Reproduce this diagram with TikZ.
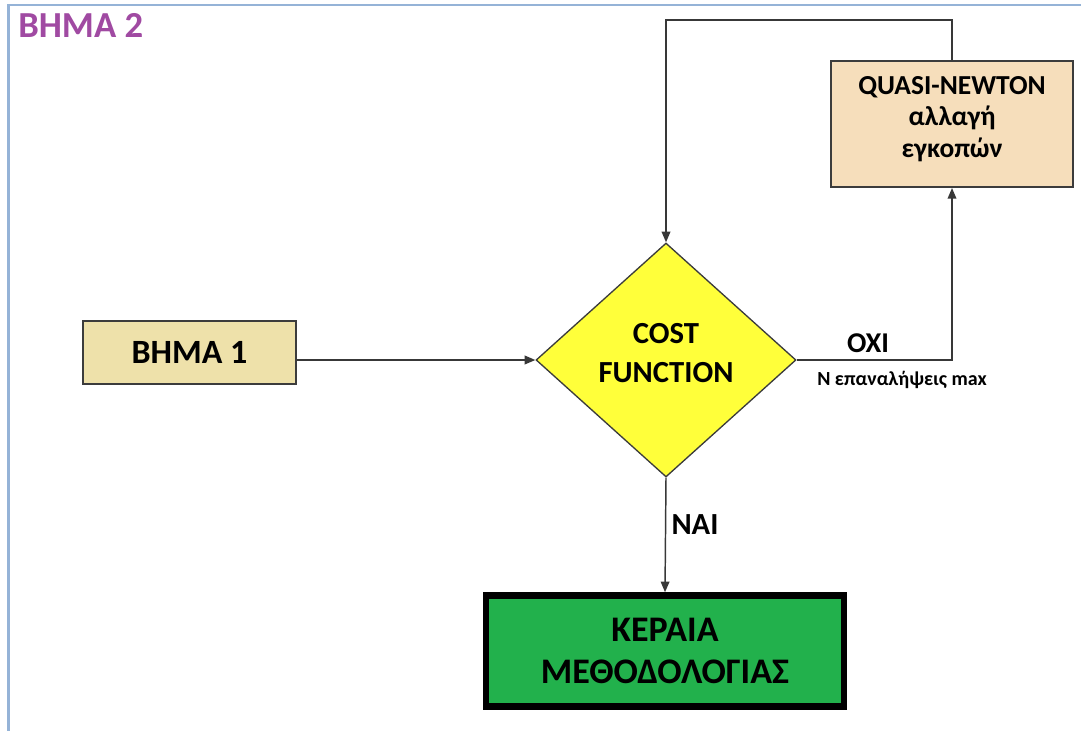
\documentclass[tikz,border=0pt]{standalone}
\usepackage{fontspec}
\setmainfont{Carlito}
\usetikzlibrary{shapes.geometric,arrows.meta}
\definecolor{framecol}{HTML}{95B3D7}
\definecolor{titlecol}{HTML}{A04AA2}
\definecolor{boxline}{HTML}{3C3C3C}
\definecolor{connline}{HTML}{383838}
\definecolor{stepcol}{HTML}{EEE1AA}
\definecolor{qncol}{HTML}{F6DEBB}
\definecolor{diamcol}{HTML}{FFFF3A}
\definecolor{greencol}{HTML}{22B14C}
\begin{document}
\begin{tikzpicture}[x=0.75pt,y=-0.75pt,
  box/.style={draw=boxline, line width=1.5pt, inner sep=0pt, align=center},
  conn/.style={draw=connline, line width=1.1pt},
  arr/.style={conn, -{Triangle[length=8pt,width=6.5pt]}},
  lab/.style={inner sep=0pt}]
\useasboundingbox (0,0) rectangle (1081,731);
% page frame
\draw[framecol, line width=2pt] (8.5,731) -- (8.5,5) -- (1081,5);
\node[anchor=base west, text=titlecol, inner sep=0pt,
      font=\fontsize{27.5}{30}\selectfont\bfseries] (title) at (18,38) {ΒΗΜΑ 2};
% blocks
\node[box, fill=stepcol, minimum width=159.75pt, minimum height=47.25pt,
      font=\fontsize{25.5}{30}\selectfont\bfseries] (b1) at (189.5,352.5) {ΒΗΜΑ 1};
\node[diamond, draw=boxline, line width=1pt, fill=diamcol, aspect=1.11,
      minimum width=195pt, minimum height=175.5pt, inner sep=0pt] (cf) at (666,360) {};
\node[align=center, inner sep=0pt,
      font=\fontsize{23}{29}\selectfont\bfseries] (cftext) at (666,353) {COST\\FUNCTION};
\node[box, fill=qncol, minimum width=181.5pt, minimum height=94.5pt] (qn) at (952,124) {};
\node[align=center, inner sep=0pt,
      font=\fontsize{20.6}{23.6}\selectfont\bfseries] (qntext) at (952,119)
      {QUASI-NEWTON\\αλλαγή\\εγκοπών};
\node[draw=black, line width=4.9pt, fill=greencol, minimum width=268.5pt,
      minimum height=83.25pt, inner sep=0pt, align=center,
      font=\fontsize{27}{31.5}\selectfont\bfseries] (ant) at (665,651)
      {ΚΕΡΑΙΑ\\ΜΕΘΟΔΟΛΟΓΙΑΣ};
% connectors
\draw[arr] (b1.east |- cf.west) -- (cf.west);
\draw[arr] (cf.east) -| (qn.south);
\draw[arr] (qn.north) -- ++(0,-40) -| (cf.north);
\draw[arr] (cf.south) -- (ant.north);
% labels
\node[lab, anchor=base, font=\fontsize{21.5}{24}\selectfont\bfseries] (no) at (868,352) {ΟΧΙ};
\node[lab, anchor=base, font=\fontsize{15}{17}\selectfont\bfseries] (nmax) at (902,385) {N επαναλήψεις max};
\node[lab, anchor=base, font=\fontsize{23}{25}\selectfont\bfseries] (yes) at (695,534) {ΝΑΙ};
\end{tikzpicture}
\end{document}
